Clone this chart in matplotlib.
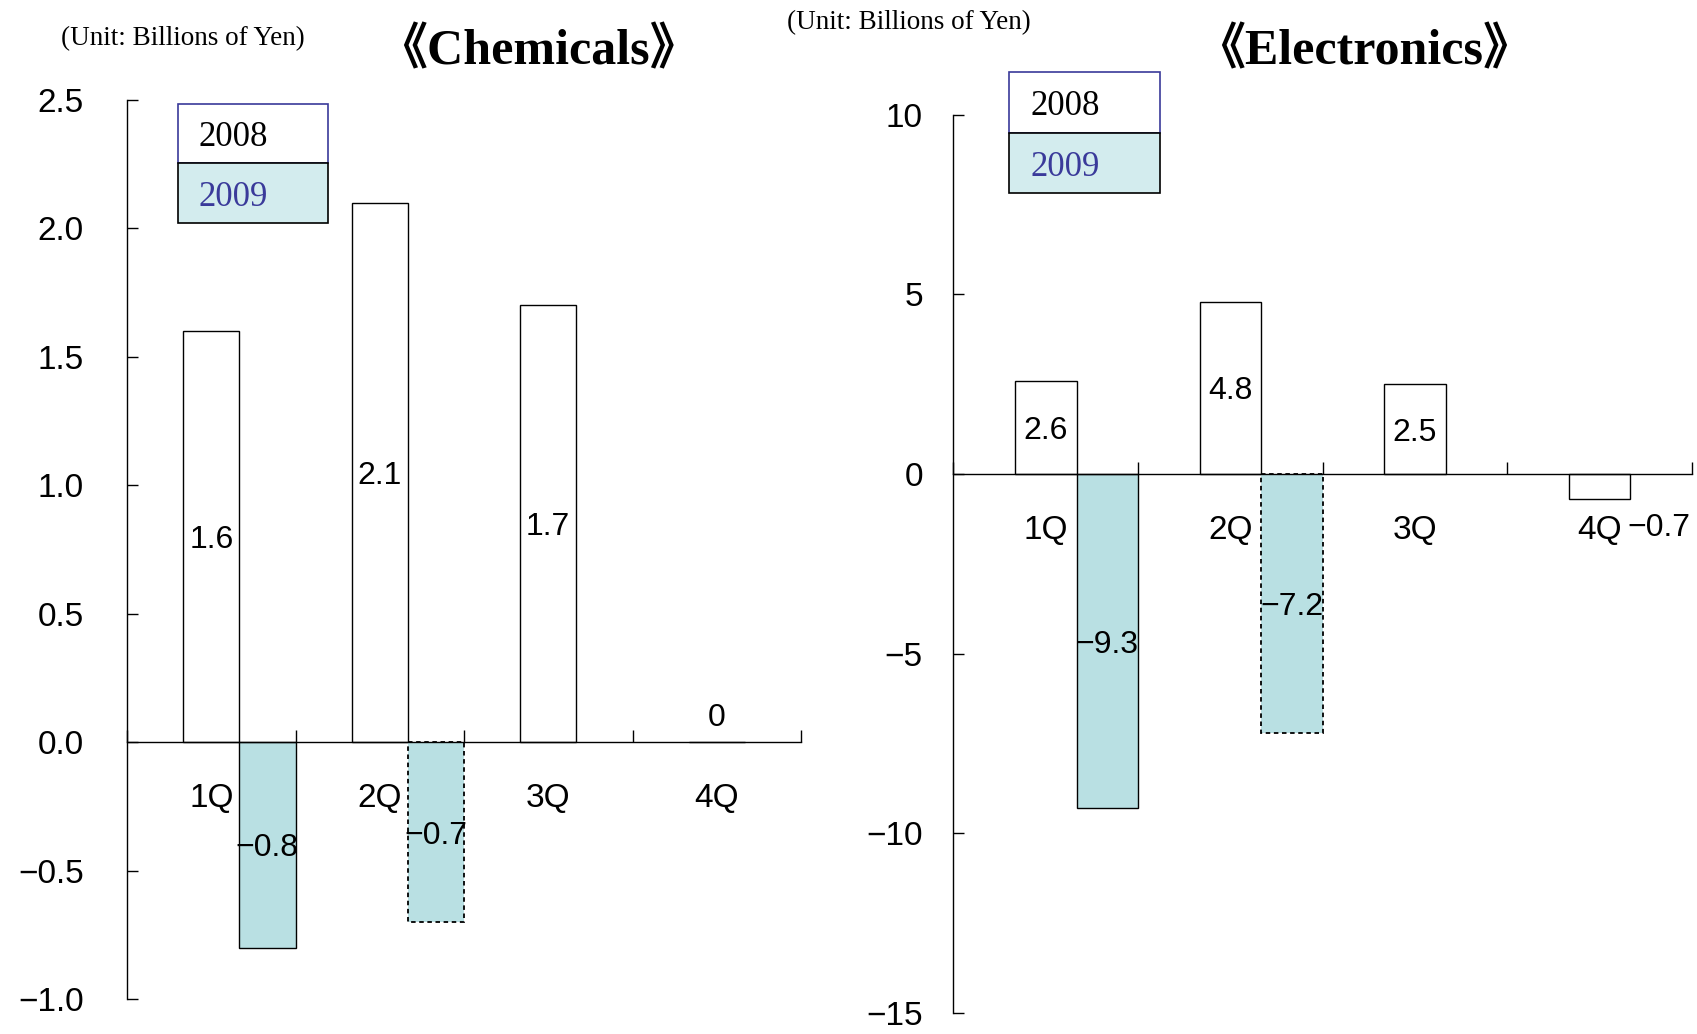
import numpy as np
import matplotlib
matplotlib.use("Agg")
import matplotlib.pyplot as plt
from matplotlib.patches import Rectangle

# values (billions of yen)
quarters = ['1Q', '2Q', '3Q', '4Q']
chem_2008 = [1.6, 2.1, 1.7, 0.0]
chem_2009 = [-0.8, -0.7, np.nan, np.nan]
elec_2008 = [2.6, 4.8, 2.5, -0.7]
elec_2009 = [-9.3, -7.2, np.nan, np.nan]
chem_yticks = [-1.0, -0.5, 0.0, 0.5, 1.0, 1.5, 2.0, 2.5]
elec_yticks = [-15, -10, -5, 0, 5, 10]

BAR_BLUE = '#b9e0e3'
KEY_BLUE = '#d3ecee'
NAVY = '#3a3a9a'
SANS = ['Liberation Sans', 'DejaVu Sans']
SERIF = ['Liberation Serif', 'Noto Sans CJK JP', 'DejaVu Serif']

W, H = 1697, 1034


def fx(px):
    return px / W


def fy(py):
    return 1 - py / H


def label_txt(v):
    if v == 0:
        return "0"
    return f"{v:.1f}".replace('-', '\u2212')


def draw_panel(ax, v08, v09, yticks, ytick_fmt, ypad, special=None):
    x = np.arange(len(quarters))
    width = 1 / 3
    b08 = ax.bar(x, v08, width, color='white', edgecolor='black', linewidth=1.0)
    b09 = ax.bar(x + width, v09, width, color=BAR_BLUE, edgecolor='black', linewidth=1.0)
    # 2Q 2009 drawn with a dotted outline in the source
    b09.patches[1].set_linestyle((0, (2.5, 2)))
    b09.patches[1].set_linewidth(1.3)

    ax.set_xlim(-0.5, len(quarters) - 0.5)
    ax.set_ylim(yticks[0], yticks[-1])
    ax.set_yticks(yticks)
    ax.set_yticklabels([ytick_fmt(t).replace('-', '\u2212') for t in yticks])
    ax.set_xticks(np.arange(len(quarters) + 1) - 0.5)
    ax.set_xticklabels([])
    for s in ['top', 'right']:
        ax.spines[s].set_visible(False)
    ax.spines['bottom'].set_position(('data', 0))
    ax.spines['left'].set_linewidth(1.0)
    ax.spines['bottom'].set_linewidth(1.0)
    ax.tick_params(axis='y', direction='in', length=8, width=1.0, pad=ypad, labelsize=24)
    ax.tick_params(axis='x', direction='in', length=9, width=1.0)
    for lab in ax.get_yticklabels():
        lab.set_fontfamily(SANS)

    for i, q in enumerate(quarters):
        ax.annotate(q, (i, 0), xytext=(0, -38), textcoords='offset points',
                    ha='center', va='center_baseline', fontsize=24, family=SANS)

    for bars, vals in [(b08, v08), (b09, v09)]:
        for rect, v in zip(bars.patches, vals):
            if np.isnan(v):
                continue
            cx = rect.get_x() + rect.get_width() / 2
            off = (0, 0)
            if special and (round(cx, 3), v) in special:
                off = special[(round(cx, 3), v)]
            ax.annotate(label_txt(v), (cx, v / 2), xytext=off, textcoords='offset points',
                        ha='center', va='center_baseline', fontsize=23, family=SANS)


def draw_key(fig, left, top, right, mid, bottom, tx):
    fig.add_artist(Rectangle((fx(left), fy(mid)), fx(right - left), fy(top) - fy(mid),
                             transform=fig.transFigure, facecolor='white', edgecolor=NAVY, lw=1.2))
    fig.add_artist(Rectangle((fx(left), fy(bottom)), fx(right - left), fy(mid) - fy(bottom),
                             transform=fig.transFigure, facecolor=KEY_BLUE, edgecolor='black', lw=1.2))
    fig.text(fx(tx), fy((top + mid) / 2), '2008', ha='left', va='center_baseline',
             fontsize=25, family=SERIF, color='black')
    fig.text(fx(tx), fy((mid + bottom) / 2), '2009', ha='left', va='center_baseline',
             fontsize=25, family=SERIF, color=NAVY)


fig = plt.figure(figsize=(W / 100, H / 100), dpi=100)

ax1 = fig.add_axes([fx(127), fy(999), fx(801 - 127), fy(100) - fy(999)])
draw_panel(ax1, chem_2008, chem_2009, chem_yticks, lambda t: f"{t:.1f}", 31,
           special={(3.0, 0.0): (0, 20)})

ax2 = fig.add_axes([fx(953.5), fy(1013), fx(1692 - 953.5), fy(114.7) - fy(1013)])
draw_panel(ax2, elec_2008, elec_2009, elec_yticks, lambda t: f"{t:d}", 22,
           special={(3.0, -0.7): (43, -27)})

# titles and unit notes
fig.text(fx(61), fy(39), '(Unit: Billions of Yen)', ha='left', va='center',
         fontsize=19.5, family=SERIF)
fig.text(fx(787), fy(23), '(Unit: Billions of Yen)', ha='left', va='center',
         fontsize=19.5, family=SERIF)
fig.text(fx(538), fy(52), '\u300aChemicals\u300b', ha='center', va='center',
         fontsize=36, fontweight='bold', family=SERIF)
fig.text(fx(1364), fy(52), '\u300aElectronics\u300b', ha='center', va='center',
         fontsize=36, fontweight='bold', family=SERIF)

draw_key(fig, 177.5, 104, 328, 163, 223, 198)
draw_key(fig, 1009, 72.5, 1160, 133, 193, 1030)

fig.savefig('out.png', dpi=100)
